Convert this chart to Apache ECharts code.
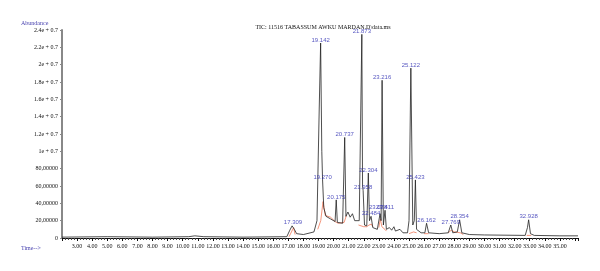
<!DOCTYPE html>
<html>
<head>
<meta charset="utf-8">
<script src="https://cdn.jsdelivr.net/npm/echarts@6/dist/echarts.min.js"></script>
<style>
html,body{margin:0;padding:0;background:#fff;}
#main{width:600px;height:271px;}
</style>
</head>
<body>
<div id="main"></div>
<script>
var chart = echarts.init(document.getElementById("main"));

// chromatogram trace, time (min) / abundance (millions)
var traceTime = [2.0,5.0,8.0,10.4,10.8,11.4,14.0,16.9,17.1,17.25,17.309,17.4,17.55,18.0,18.7,18.9,19.05,19.142,19.22,19.27,19.35,19.5,19.8,20.1,20.175,20.25,20.6,20.737,20.82,20.95,21.1,21.25,21.4,21.7,21.873,21.92,21.958,22.05,22.2,22.304,22.38,22.484,22.6,22.9,23.08,23.15,23.216,23.3,23.411,23.5,23.7,23.85,24.0,24.1,24.4,24.6,24.9,25.0,25.122,25.25,25.35,25.423,25.5,25.8,26.05,26.162,26.3,27.0,27.6,27.769,27.9,28.2,28.354,28.5,29.0,30.0,32.7,32.85,32.928,33.05,33.3,35.0,36.2];
var traceAbund = [0.1,0.15,0.1,0.15,0.25,0.15,0.1,0.15,0.9,1.4,1.5,1.0,0.5,0.4,0.7,2.0,15,22.5,10,6.7,3.5,2.5,2.2,1.9,4.4,1.8,1.7,11.6,2.5,3.0,2.4,2.8,2.0,2.0,23.5,6.0,5.5,1.5,1.4,7.5,2.0,2.5,1.2,1.0,2.8,2.0,18.2,1.5,3.2,1.0,1.2,0.9,1.3,0.8,1.0,0.6,0.6,2.0,19.6,1.5,2.0,6.7,1.0,0.6,0.6,1.7,0.6,0.5,0.6,1.5,0.6,0.7,2.1,0.6,0.4,0.35,0.3,1.2,2.1,0.5,0.3,0.25,0.25];

// integration baselines (red), null breaks segments
var integTime = [17.05,17.35,17.45,null,18.95,19.15,19.3,19.45,19.8,20.1,20.3,20.7,20.85,null,21.65,22.0,22.2,22.35,22.5,22.6,null,23.0,23.1,23.2,23.4,23.5,null,25.0,25.3,25.5,null,26.0,26.3,null,27.6,27.8,28.0,28.4,28.6,null,32.8,33.1];
var integAbund = [0.15,1.2,0.4,null,1.0,2.0,4.2,2.6,2.4,1.9,1.7,1.8,2.6,null,1.5,1.3,1.3,1.5,1.6,1.3,null,1.2,2.2,1.3,1.0,0.8,null,0.5,0.7,0.6,null,0.5,0.5,null,0.6,0.9,0.7,0.6,0.4,null,0.3,0.3];

// peak labels
var peakLabels = ['17.309','19.142','19.270','20.175','20.737','21.873','21.958','22.304','22.484','23.078','23.411','23.216','25.122','25.423','26.162','27.769','28.354','32.928'];
var peakTime = [17.309,19.142,19.27,20.175,20.737,21.873,21.958,22.304,22.484,22.95,23.411,23.216,25.122,25.423,26.162,27.769,28.354,32.928];
var peakAbund = [1.5,22.5,6.7,4.4,11.6,23.5,5.5,7.5,2.5,3.2,3.2,18.2,19.6,6.7,1.7,1.5,2.1,2.1];

var yTickLabels = ['0','20,00000','40,00000','60,00000','80,00000','1e + 0.7','1.2e + 0.7','1.4e + 0.7','1.6e + 0.7','1.8e + 0.7','2e + 0.7','2.2e + 0.7','2.4e + 0.7'];

var M = 1000000;
var trace = [];
for (var i = 0; i < traceTime.length; i++) {
	trace.push([traceTime[i], traceAbund[i] * M]);
}
var integ = [];
for (var i = 0; i < integTime.length; i++) {
	if (integTime[i] === null) integ.push(['-', '-']);
	else integ.push([integTime[i], integAbund[i] * M]);
}
var peaks = [];
for (var i = 0; i < peakTime.length; i++) {
	peaks.push({value: [peakTime[i], peakAbund[i] * M], name: peakLabels[i]});
}

var serif = '"Liberation Serif", "DejaVu Serif", serif';

var options = {
	backgroundColor: '#fff',
	animation: false,
	title: {
		text: 'TIC: 11516 TABASSUM AWKU MARDAN.D\\data.ms',
		left: 318,
		textAlign: 'center',
		top: 19,
		textStyle: {fontFamily: serif, fontSize: 6, fontWeight: 'normal', color: '#111'}
	},
	graphic: [
		{type: 'text', left: 21, top: 20, style: {text: 'Abundance', font: '6px ' + serif, fill: '#4a44b0'}},
		{type: 'text', left: 21, top: 245, style: {text: 'Time-->', font: '6px ' + serif, fill: '#4a44b0'}}
	],
	grid: {left: 62, right: 22, top: 30, bottom: 33},
	xAxis: {
		type: 'value',
		min: 2,
		max: 36.2,
		interval: 1,
		axisLine: {lineStyle: {color: '#111', width: 1}},
		axisTick: {show: true, length: 3, lineStyle: {color: '#111'}},
		minorTick: {show: true, splitNumber: 5, length: 2, lineStyle: {color: '#444'}},
		splitLine: {show: false},
		axisLabel: {
			fontFamily: serif, fontSize: 6, color: '#111', margin: 5, hideOverlap: false,
			formatter: function (v) {
				return (v >= 3 && v <= 35) ? v.toFixed(2) : '';
			}
		}
	},
	yAxis: {
		type: 'value',
		min: 0,
		max: 24 * M,
		interval: 2 * M,
		axisLine: {show: true, lineStyle: {color: '#888', width: 2}},
		axisTick: {show: true, length: 2, lineStyle: {color: '#888'}},
		splitLine: {show: false},
		axisLabel: {
			fontFamily: serif, fontSize: 6, color: '#111', margin: 4,
			formatter: function (v) {
				return yTickLabels[Math.round(v / (2 * M))];
			}
		}
	},
	series: [
		{
			type: 'line',
			data: integ,
			symbol: 'none',
			connectNulls: false,
			lineStyle: {color: '#f07a5a', width: 0.8},
			z: 2
		},
		{
			type: 'line',
			data: trace,
			symbol: 'none',
			lineStyle: {color: '#222', width: 0.8},
			z: 3
		},
		{
			type: 'scatter',
			data: peaks,
			symbolSize: 0,
			label: {
				show: true,
				position: 'top',
				distance: 0,
				formatter: function (p) { return p.name; },
				fontFamily: '"Liberation Sans", Arial, sans-serif',
				fontSize: 6,
				color: '#2b2bb0'
			},
			z: 4
		}
	]
};
chart.setOption(options);
</script>
</body>
</html>
